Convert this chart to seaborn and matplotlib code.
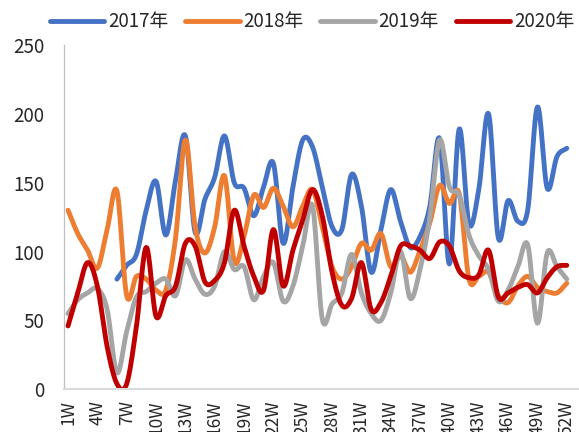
import numpy as np
import pandas as pd
import seaborn as sns
import matplotlib
matplotlib.use('Agg')
import matplotlib.pyplot as plt

# weekly values
weeks = list(range(1, 53))
tick_weeks = list(range(1, 53, 3))
tick_labels = [f'{w}W' for w in tick_weeks]
series_names = ['2017年', '2018年', '2019年', '2020年']

v2017 = [np.nan] * 5 + [80, 90, 98, 130, 151, 112, 152, 184, 114, 138,
                        154, 184, 150, 146, 126, 147, 164, 106, 147, 181,
                        176, 147, 118, 116, 156, 133, 85, 116, 145, 122,
                        103, 111, 133, 182, 91, 189, 120, 145, 200, 110,
                        137, 122, 130, 205, 146, 169, 175]
v2018 = [130, 113, 101, 88, 116, 144, 68, 82, 80, 72,
         72, 110, 181, 118, 99, 118, 155, 93, 111, 141,
         132, 146, 133, 118, 133, 145, 118, 89, 80, 89,
         106, 101, 113, 89, 97, 85, 101, 121, 148, 135,
         142, 80, 82, 85, 68, 63, 75, 82, 74, 71,
         70, 77]
v2019 = [55, 65, 70, 73, 58, 12, 42, 67, 71, 77,
         80, 68, 94, 80, 69, 75, 100, 87, 89, 65,
         82, 92, 64, 75, 104, 133, 51, 62, 70, 98,
         70, 55, 50, 70, 100, 66, 87, 125, 181, 147,
         141, 112, 97, 87, 64, 72, 89, 105, 48, 99,
         89, 80]
v2020 = [46, 70, 92, 75, 31, 4, 4, 46, 103, 53,
         68, 75, 106, 104, 78, 79, 92, 130, 104, 82,
         72, 116, 75, 101, 123, 145, 126, 85, 61, 66,
         92, 58, 63, 82, 104, 104, 101, 95, 107, 104,
         86, 81, 83, 101, 67, 70, 74, 76, 70, 81,
         89, 90]
colors = ['#4472C4', '#ED7D31', '#A5A5A5', '#C00000']


def smooth(x, y, n=16):
    # Catmull-Rom curve through the points, like Excel's smoothed line
    x = np.asarray(x, float)
    y = np.asarray(y, float)
    ok = ~np.isnan(y)
    x, y = x[ok], y[ok]
    px = np.concatenate([[2 * x[0] - x[1]], x, [2 * x[-1] - x[-2]]])
    py = np.concatenate([[2 * y[0] - y[1]], y, [2 * y[-1] - y[-2]]])
    t = np.linspace(0, 1, n, endpoint=False)
    xs, ys = [], []
    for i in range(1, len(px) - 2):
        for p, out in ((px, xs), (py, ys)):
            p0, p1, p2, p3 = p[i - 1], p[i], p[i + 1], p[i + 2]
            out.extend(0.5 * (2 * p1 + (-p0 + p2) * t
                              + (2 * p0 - 5 * p1 + 4 * p2 - p3) * t ** 2
                              + (-p0 + 3 * p1 - 3 * p2 + p3) * t ** 3))
    xs.append(x[-1])
    ys.append(y[-1])
    return np.array(xs), np.array(ys)


sns.set_style('white')
plt.rcParams['font.family'] = ['Noto Sans CJK SC', 'DejaVu Sans']

fig = plt.figure(figsize=(5.79, 4.32), dpi=100)
ax = fig.add_axes([64 / 579, 1 - 389.3 / 432, 1 - 64 / 579, (389.3 - 45) / 432])

for name, vals, c in zip(series_names, [v2017, v2018, v2019, v2020], colors):
    sx, sy = smooth(weeks, vals)
    df = pd.DataFrame({'week': sx, 'value': sy})
    sns.lineplot(data=df, x='week', y='value', color=c, linewidth=3.5,
                 sort=False, estimator=None, label=name, ax=ax,
                 solid_capstyle='round')

ax.set_xlim(0.59, 53.25)
ax.set_ylim(0, 250)
ax.set_yticks([0, 50, 100, 150, 200, 250])
ax.set_xticks(tick_weeks)
ax.set_xticklabels(tick_labels, rotation=90, fontsize=12.5)
ax.tick_params(axis='x', length=0, pad=8)
ax.tick_params(axis='y', direction='in', length=4.5, width=0.8,
               color='#BFBFBF', labelsize=13.5, pad=14)
ax.set_xlabel('')
ax.set_ylabel('')
for s in ['top', 'right']:
    ax.spines[s].set_visible(False)
ax.spines['left'].set_color('#BFBFBF')
ax.spines['left'].set_linewidth(0.9)
ax.spines['bottom'].set_color('#D9D9D9')
ax.spines['bottom'].set_linewidth(1.5)

ax.get_legend().remove()
handles, labels = ax.get_legend_handles_labels()
fig.legend(handles, labels, loc='center', bbox_to_anchor=(312 / 579, 1 - 22 / 432),
           ncol=4, frameon=False, fontsize=13.5, handlelength=2.9,
           handletextpad=0.2, columnspacing=0.9, borderaxespad=0)

fig.savefig('out.png', dpi=100)
